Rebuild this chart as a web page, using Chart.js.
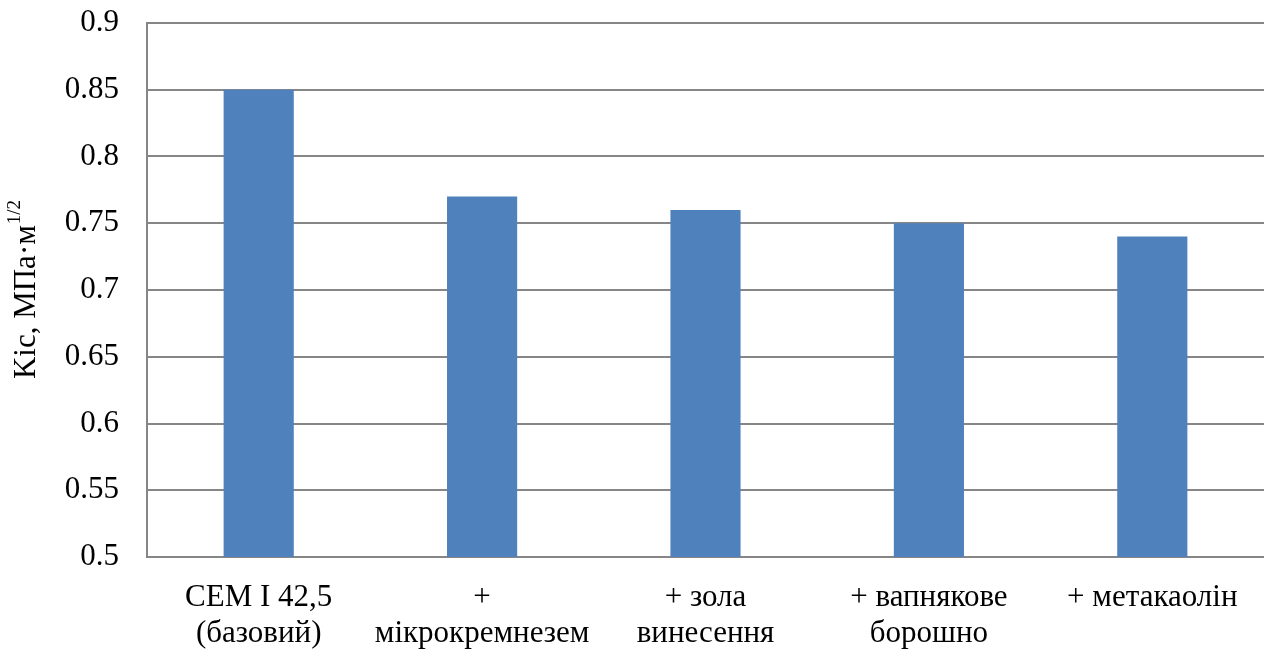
<!DOCTYPE html>
<html>
<head>
<meta charset="utf-8">
<script src="https://cdn.jsdelivr.net/npm/chart.js@4/dist/chart.umd.min.js"></script>
<style>
  html, body { margin: 0; padding: 0; background: #fff; overflow: hidden; }
  canvas { display: block; }
</style>
</head>
<body>
<canvas id="myChart" width="1264" height="650"></canvas>
<script>
'use strict';

// categories (multi-line labels) and Kic values
const labels = [
    ['CEM I 42,5', '(базовий)'],
    ['+', 'мікрокремнезем'],
    ['+ зола', 'винесення'],
    ['+ вапнякове', 'борошно'],
    ['+ метакаолін']
];
const kic = [0.85, 0.77, 0.76, 0.75, 0.74];
const yTicks = [0.5, 0.55, 0.6, 0.65, 0.7, 0.75, 0.8, 0.85, 0.9];

const FONT = '"Liberation Serif", "Times New Roman", serif';

// y axis title with a superscript exponent, drawn rotated
const yTitle = {
    id: 'yTitle',
    afterDraw(chart) {
        const ctx = chart.ctx;
        const area = chart.chartArea;
        ctx.save();
        ctx.translate(27, (area.top + area.bottom) / 2);
        ctx.rotate(-Math.PI / 2);
        ctx.fillStyle = '#000';
        ctx.textBaseline = 'middle';
        const main = 'Kic, МПа·м';
        const sup = '1/2';
        ctx.font = '31px ' + FONT;
        const w1 = ctx.measureText(main).width;
        ctx.font = '19px ' + FONT;
        const w2 = ctx.measureText(sup).width;
        const x0 = -(w1 + w2) / 2;
        ctx.font = '31px ' + FONT;
        ctx.textAlign = 'left';
        ctx.fillText(main, x0, 0);
        ctx.font = '19px ' + FONT;
        ctx.fillText(sup, x0 + w1 + 1, -12);
        ctx.restore();
    }
};

const ctx = document.getElementById('myChart');

new Chart(ctx, {
    type: 'bar',
    data: {
        labels: labels,
        datasets: [{
            data: kic,
            backgroundColor: '#4F81BD',
            borderWidth: 0,
            barPercentage: 0.314,
            categoryPercentage: 1
        }]
    },
    options: {
        responsive: false,
        animation: false,
        layout: { padding: { top: 23, right: 0, bottom: 0, left: 0 } },
        plugins: {
            legend: { display: false },
            tooltip: { enabled: false }
        },
        scales: {
            x: {
                afterFit(scale) {
                    scale.height = 93;
                    scale.paddingLeft = 0;
                    scale.paddingRight = 0;
                },
                grid: { display: false, drawTicks: false },
                border: { color: '#868686', width: 2 },
                ticks: {
                    color: '#000',
                    maxRotation: 0,
                    autoSkip: false,
                    padding: 23,
                    font: { family: FONT, size: 31, lineHeight: 1.16 }
                }
            },
            y: {
                min: 0.5,
                max: 0.9,
                afterFit(scale) {
                    scale.width = 147;
                    scale.paddingTop = 0;
                    scale.paddingBottom = 0;
                },
                afterBuildTicks(scale) {
                    scale.ticks = yTicks.map(v => ({ value: v }));
                },
                grid: { color: '#868686', lineWidth: 2, drawTicks: false },
                border: { color: '#868686', width: 2 },
                ticks: {
                    color: '#000',
                    padding: 28,
                    font: { family: FONT, size: 31 },
                    callback: v => String(+v.toFixed(2))
                }
            }
        }
    },
    plugins: [yTitle]
});
</script>
</body>
</html>
